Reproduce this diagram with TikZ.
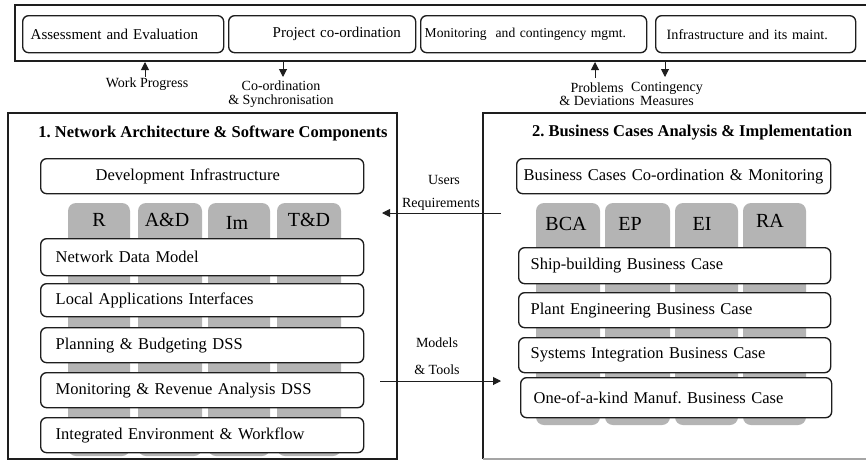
\documentclass[tikz,border=0pt]{standalone}
\usepackage{fontspec}
\setmainfont{Liberation Serif}
\usetikzlibrary{arrows.meta}
\definecolor{tabgray}{RGB}{180,180,180}
\definecolor{ink}{RGB}{30,30,30}
\frenchspacing
\begin{document}
\begin{tikzpicture}[x=1pt,y=-1pt,
  frame/.style={draw=ink, line width=1.6pt},
  ibox/.style={draw=ink, line width=1.35pt, rounded corners=6pt, fill=white, anchor=north west, inner ysep=0pt, align=left},
  tabbox/.style={fill=tabgray, rounded corners=8pt},
  lbl/.style={font=\fontsize{14}{13.5}\selectfont, inner sep=1pt, align=center},
  tablbl/.style={font=\fontsize{20}{20}\selectfont, inner sep=0pt},
  ttl/.style={font=\fontsize{16.5}{18}\selectfont\bfseries, inner sep=0pt},
  topf/.style={font=\fontsize{15}{16}\selectfont},
  inf/.style={font=\fontsize{16.5}{18}\selectfont},
  arr/.style={draw=ink, line width=1pt, -{Triangle[length=8pt,width=8pt]}},
]
\useasboundingbox (0,0) rectangle (866,461);
\fill[white] (0,0) rectangle (866,461);

% ---------- top frame ----------
\draw[frame] (866,5) -- (15,5) -- (15,61) -- (866,61);
\node[ibox, topf, minimum width=201, minimum height=37, inner xsep=8, text width=185] (ae) at (22,15) {Assessment and Evaluation};
\node[ibox, topf, minimum width=187, minimum height=37, inner xsep=8, text width=171] (pc) at (228,15) {\hspace*{36pt}Project co-ordination};
\node[ibox, font=\fontsize{13.6}{15}\selectfont, minimum width=226, minimum height=37, inner xsep=4, text width=218] (mc) at (420,15) {Monitoring\ \ and contingency mgmt.};
\node[ibox, font=\fontsize{14.2}{15}\selectfont, minimum width=200, minimum height=37, inner xsep=11, text width=178] (im) at (655,15) {Infrastructure and its maint.};

% ---------- top arrows ----------
\coordinate (wpT) at (145,62);
\coordinate (wpB) at (145,77);
\node[lbl] (wp) at (147,84) {Work Progress};
\draw[arr] (wpB) -- (wpT);

\coordinate (coT) at (283,62);
\coordinate (coB) at (283,77);
\node[lbl] (co) at (281,94) {Co-ordination\\\& Synchronisation};
\draw[arr] (coT) -- (coB);

\coordinate (prT) at (595,62);
\coordinate (prB) at (595,78);
\node[lbl] (pr) at (597,94) {Problems\\\& Deviations};
\draw[arr] (prB) -- (prT);

\coordinate (cmT) at (665,62);
\coordinate (cmB) at (665,77);
\node[lbl] (cm) at (667,94) {Contingency\\Measures};
\draw[arr] (cmT) -- (cmB);

% ---------- left panel ----------
\draw[frame] (8,113) rectangle (397,459);
\node[ttl] (t1) at (213,133) {1. Network Architecture \& Software Components};

\fill[tabbox] (68,203) rectangle (130,456);
\fill[tabbox] (138,203) rectangle (202,456);
\fill[tabbox] (208,203) rectangle (270,456);
\fill[tabbox] (277,203) rectangle (341,456);
\node[tablbl] (tR) at (99,220) {R};
\node[tablbl] (tAD) at (167,220) {A\&D};
\node[tablbl] (tIm) at (237,223) {Im};
\node[tablbl] (tTD) at (309,220) {T\&D};

\node[ibox, inf, minimum width=323, minimum height=35, inner xsep=15, text width=293] (dev) at (40,158) {\hspace*{40pt}Development Infrastructure};
\node[ibox, inf, minimum width=323, minimum height=37, inner xsep=15, text width=293] (ndm) at (40,238) {Network Data Model};
\node[ibox, inf, minimum width=323, minimum height=33, inner xsep=15, text width=293] (lai) at (40,283) {Local Applications Interfaces};
\node[ibox, inf, minimum width=323, minimum height=35, inner xsep=15, text width=293] (pbd) at (40,327) {Planning \& Budgeting DSS};
\node[ibox, inf, minimum width=323, minimum height=35, inner xsep=15, text width=293] (mra) at (40,372) {Monitoring \& Revenue Analysis DSS};
\node[ibox, inf, minimum width=323, minimum height=35, inner xsep=15, text width=293] (iew) at (40,417) {Integrated Environment \& Workflow};

% ---------- right panel ----------
\draw[frame] (866,113) -- (483,113) -- (483,459);
\draw[draw=ink!40, line width=1.2pt] (483,459) -- (866,459);
\node[ttl] (t2) at (692,133) {2. Business Cases Analysis \& Implementation};

\fill[tabbox] (536,203) rectangle (600,425);
\fill[tabbox] (605,203) rectangle (670,425);
\fill[tabbox] (675,203) rectangle (738,425);
\fill[tabbox] (743,203) rectangle (806,425);
\node[tablbl] (tBCA) at (566,224) {BCA};
\node[tablbl] (tEP) at (630,224) {EP};
\node[tablbl] (tEI) at (702,224) {EI};
\node[tablbl] (tRA) at (770,221) {RA};

\node[ibox, inf, minimum width=314, minimum height=35, inner xsep=7, text width=300] (bcc) at (516,158) {Business Cases Co-ordination \& Monitoring};
\node[ibox, inf, minimum width=312, minimum height=36, inner xsep=12, text width=288] (sbc) at (518,247) {Ship-building Business Case};
\node[ibox, inf, minimum width=312, minimum height=35, inner xsep=12, text width=288] (pbc) at (518,292) {Plant Engineering Business Case};
\node[ibox, inf, minimum width=312, minimum height=35, inner xsep=12, text width=288] (sibc) at (518,337) {Systems Integration Business Case};
\node[ibox, inf, minimum width=311, minimum height=40, inner xsep=13, text width=285] (okbc) at (520,377) {One-of-a-kind Manuf.\ Business Case};

% ---------- middle arrows ----------
\node[lbl] (us) at (444,180) {Users};
\node[lbl] (rq) at (441,204) {Requirements};
\coordinate (urS) at (501,213);
\coordinate (urE) at (382,213);
\draw[arr] (urS) -- (urE);

\node[lbl] (mo) at (437,343) {Models};
\node[lbl] (to) at (437,370) {\& Tools};
\coordinate (mtS) at (380,381);
\coordinate (mtE) at (501,381);
\draw[arr] (mtS) -- (mtE);
\end{tikzpicture}
\end{document}
